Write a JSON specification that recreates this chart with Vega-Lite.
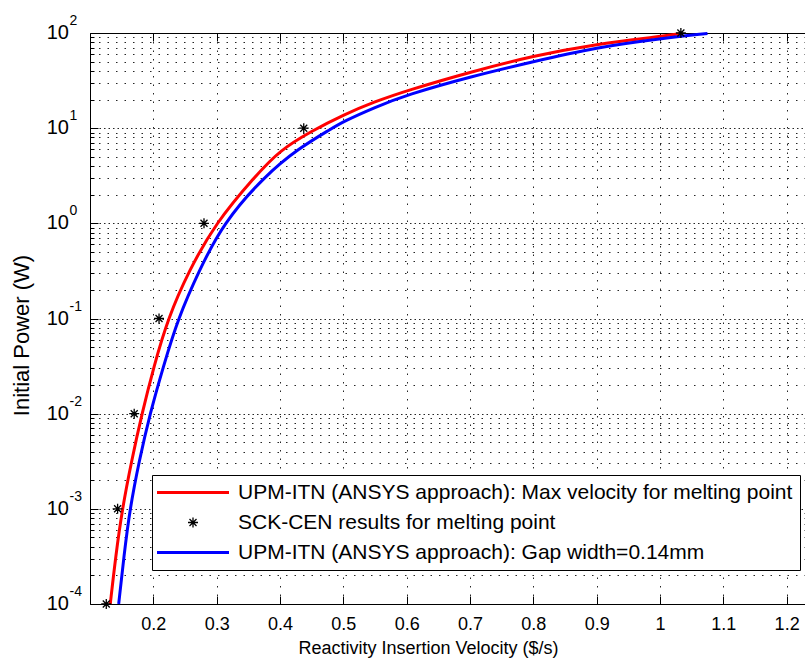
{
  "$schema": "https://vega.github.io/schema/vega-lite/v6.json",
  "width": 715,
  "height": 571,
  "autosize": {"type": "none"},
  "padding": {"left": 90, "top": 33, "right": 0, "bottom": 56},
  "background": "white",
  "config": {
    "view": {"stroke": null},
    "font": "Liberation Sans",
    "axis": {"labelFont": "Liberation Sans", "titleFont": "Liberation Sans", "labelColor": "black", "titleColor": "black", "titleFontWeight": "normal", "domainColor": "black", "tickColor": "black", "labelFlush": false, "labelOverlap": false}
  },
  "datasets": {
    "red": [
      {"v": 0.132, "p": 0.0001, "s": "UPM-ITN (ANSYS approach): Max velocity for melting point"},
      {"v": 0.1405, "p": 0.000316, "s": "UPM-ITN (ANSYS approach): Max velocity for melting point"},
      {"v": 0.151, "p": 0.001, "s": "UPM-ITN (ANSYS approach): Max velocity for melting point"},
      {"v": 0.1655, "p": 0.00316, "s": "UPM-ITN (ANSYS approach): Max velocity for melting point"},
      {"v": 0.182, "p": 0.01, "s": "UPM-ITN (ANSYS approach): Max velocity for melting point"},
      {"v": 0.201, "p": 0.0316, "s": "UPM-ITN (ANSYS approach): Max velocity for melting point"},
      {"v": 0.223, "p": 0.1, "s": "UPM-ITN (ANSYS approach): Max velocity for melting point"},
      {"v": 0.256, "p": 0.316, "s": "UPM-ITN (ANSYS approach): Max velocity for melting point"},
      {"v": 0.298, "p": 1.0, "s": "UPM-ITN (ANSYS approach): Max velocity for melting point"},
      {"v": 0.36, "p": 3.09, "s": "UPM-ITN (ANSYS approach): Max velocity for melting point"},
      {"v": 0.4, "p": 5.89, "s": "UPM-ITN (ANSYS approach): Max velocity for melting point"},
      {"v": 0.45, "p": 9.33, "s": "UPM-ITN (ANSYS approach): Max velocity for melting point"},
      {"v": 0.5, "p": 13.8, "s": "UPM-ITN (ANSYS approach): Max velocity for melting point"},
      {"v": 0.55, "p": 19.05, "s": "UPM-ITN (ANSYS approach): Max velocity for melting point"},
      {"v": 0.6, "p": 24.8, "s": "UPM-ITN (ANSYS approach): Max velocity for melting point"},
      {"v": 0.7, "p": 38.9, "s": "UPM-ITN (ANSYS approach): Max velocity for melting point"},
      {"v": 0.8, "p": 57.5, "s": "UPM-ITN (ANSYS approach): Max velocity for melting point"},
      {"v": 0.9, "p": 76.7, "s": "UPM-ITN (ANSYS approach): Max velocity for melting point"},
      {"v": 1.0, "p": 91.6, "s": "UPM-ITN (ANSYS approach): Max velocity for melting point"},
      {"v": 1.034, "p": 98.9, "s": "UPM-ITN (ANSYS approach): Max velocity for melting point"}
    ],
    "blue": [
      {"v": 0.1453, "p": 0.0001, "s": "UPM-ITN (ANSYS approach): Gap width=0.14mm"},
      {"v": 0.1535, "p": 0.000316, "s": "UPM-ITN (ANSYS approach): Gap width=0.14mm"},
      {"v": 0.163, "p": 0.001, "s": "UPM-ITN (ANSYS approach): Gap width=0.14mm"},
      {"v": 0.1775, "p": 0.00316, "s": "UPM-ITN (ANSYS approach): Gap width=0.14mm"},
      {"v": 0.1947, "p": 0.01, "s": "UPM-ITN (ANSYS approach): Gap width=0.14mm"},
      {"v": 0.216, "p": 0.0316, "s": "UPM-ITN (ANSYS approach): Gap width=0.14mm"},
      {"v": 0.239, "p": 0.1, "s": "UPM-ITN (ANSYS approach): Gap width=0.14mm"},
      {"v": 0.272, "p": 0.316, "s": "UPM-ITN (ANSYS approach): Gap width=0.14mm"},
      {"v": 0.31, "p": 1.0, "s": "UPM-ITN (ANSYS approach): Gap width=0.14mm"},
      {"v": 0.376, "p": 3.16, "s": "UPM-ITN (ANSYS approach): Gap width=0.14mm"},
      {"v": 0.43, "p": 6.17, "s": "UPM-ITN (ANSYS approach): Gap width=0.14mm"},
      {"v": 0.48, "p": 9.77, "s": "UPM-ITN (ANSYS approach): Gap width=0.14mm"},
      {"v": 0.5, "p": 11.75, "s": "UPM-ITN (ANSYS approach): Gap width=0.14mm"},
      {"v": 0.55, "p": 16.6, "s": "UPM-ITN (ANSYS approach): Gap width=0.14mm"},
      {"v": 0.6, "p": 22.4, "s": "UPM-ITN (ANSYS approach): Gap width=0.14mm"},
      {"v": 0.7, "p": 34.7, "s": "UPM-ITN (ANSYS approach): Gap width=0.14mm"},
      {"v": 0.8, "p": 50.1, "s": "UPM-ITN (ANSYS approach): Gap width=0.14mm"},
      {"v": 0.9, "p": 70.8, "s": "UPM-ITN (ANSYS approach): Gap width=0.14mm"},
      {"v": 1.0, "p": 87.1, "s": "UPM-ITN (ANSYS approach): Gap width=0.14mm"},
      {"v": 1.075, "p": 98.9, "s": "UPM-ITN (ANSYS approach): Gap width=0.14mm"}
    ],
    "pts": [
      {"v": 0.1257, "p": 0.0001, "s": "SCK-CEN results for melting point"},
      {"v": 0.1436, "p": 0.001, "s": "SCK-CEN results for melting point"},
      {"v": 0.1698, "p": 0.01, "s": "SCK-CEN results for melting point"},
      {"v": 0.209, "p": 0.1, "s": "SCK-CEN results for melting point"},
      {"v": 0.28, "p": 1.0, "s": "SCK-CEN results for melting point"},
      {"v": 0.4375, "p": 10.0, "s": "SCK-CEN results for melting point"},
      {"v": 1.033, "p": 100.0, "s": "SCK-CEN results for melting point"}
    ]
  },
  "layer": [
    {
      "data": {"name": "red"},
      "mark": {"type": "line", "strokeWidth": 3, "interpolate": "basis"},
      "encoding": {
        "x": {
          "field": "v", "type": "quantitative",
          "scale": {"domain": [0.1, 1.229], "nice": false, "zero": false},
          "axis": {
            "orient": "bottom",
            "values": [0.2, 0.3, 0.4, 0.5, 0.6, 0.7, 0.8, 0.9, 1.0, 1.1, 1.2],
            "labelExpr": "'' + round(datum.value*10)/10",
            "labelFontSize": 18, "labelPadding": 25, "labelBaseline": "alphabetic",
            "ticks": false, "grid": true, "gridDash": [1.5, 7], "gridColor": "black", "gridOpacity": 0.85,
            "domain": true,
            "title": "Reactivity Insertion Velocity ($/s)", "titleFontSize": 18,
            "titleX": 338, "titleY": 49.5, "titleBaseline": "alphabetic", "titleAlign": "center"
          }
        },
        "y": {
          "field": "p", "type": "quantitative",
          "scale": {"type": "log", "domain": [0.0001, 100], "nice": false},
          "axis": {
            "orient": "left",
            "values": [0.0001,0.0002,0.0003,0.0004,0.0005,0.0006,0.0007,0.0008,0.0009,0.001,0.002,0.003,0.004,0.005,0.006,0.007,0.008,0.009,0.01,0.02,0.03,0.04,0.05,0.06,0.07,0.08,0.09,0.1,0.2,0.3,0.4,0.5,0.6,0.7,0.8,0.9,1,2,3,4,5,6,7,8,9,10,20,30,40,50,60,70,80,90,100],
            "labelExpr": "abs(log(datum.value)/LN10 - round(log(datum.value)/LN10)) < 0.001 ? '10' : ''",
            "labelFontSize": 20, "labelPadding": 21.5, "labelAlign": "right", "labelBaseline": "alphabetic", "labelOffset": 5.5,
            "ticks": false, "grid": true, "gridColor": "black", "gridOpacity": 0.85,
            "gridDash": {"condition": {"test": "abs(log(datum.value)/LN10 - round(log(datum.value)/LN10)) < 0.001", "value": [1.5, 3]}, "value": [1.5, 7]},
            "domain": true,
            "title": "Initial Power (W)", "titleFontSize": 22, "titleAngle": 270,
            "titleX": -61.5, "titleY": 302, "titleBaseline": "alphabetic", "titleAlign": "center"
          }
        },
        "color": {
          "field": "s", "type": "nominal",
          "scale": {"domain": ["UPM-ITN (ANSYS approach): Max velocity for melting point", "SCK-CEN results for melting point", "UPM-ITN (ANSYS approach): Gap width=0.14mm"], "range": ["#ff0000", "#000000", "#0000ff"]},
          "legend": {
            "orient": "none", "legendX": 62, "legendY": 442, "title": null,
            "strokeColor": "black", "fillColor": "white", "padding": 7,
            "labelFontSize": 21, "labelFont": "Liberation Sans", "labelColor": "black", "labelLimit": 1000,
            "symbolSize": 100, "symbolStrokeWidth": 3, "labelOffset": 58, "rowPadding": 8,
            "encode": {"symbols": {"update": {
              "shape": {"signal": "datum.value === 'SCK-CEN results for melting point' ? 'M3.7,0L5.7,0M4.7,-1L4.7,1M4,-0.7L5.4,0.7M4,0.7L5.4,-0.7' : 'M-2.5,0L11.9,0'"},
              "strokeWidth": {"signal": "datum.value === 'SCK-CEN results for melting point' ? 1.3 : 3"},
              "stroke": {"signal": "datum.value === 'SCK-CEN results for melting point' ? '#000000' : (indexof(datum.value, 'Gap') >= 0 ? '#0000ff' : '#ff0000')"},
              "fill": {"value": "transparent"}
            }}}
          }
        }
      }
    },
    {
      "data": {"name": "blue"},
      "mark": {"type": "line", "strokeWidth": 3, "interpolate": "basis"},
      "encoding": {
        "x": {
          "field": "v", "type": "quantitative",
          "axis": {
            "orient": "top",
            "values": [0.2, 0.3, 0.4, 0.5, 0.6, 0.7, 0.8, 0.9, 1.0, 1.1, 1.2],
            "labels": false, "grid": false, "ticks": true, "tickSize": -8, "domain": true, "title": null
          }
        },
        "y": {
          "field": "p", "type": "quantitative",
          "axis": {
            "orient": "left",
            "values": [0.0001, 0.001, 0.01, 0.1, 1, 10, 100],
            "labelExpr": "'' + round(log(datum.value)/LN10)",
            "labelFontSize": 14, "labelAlign": "left", "labelBaseline": "alphabetic", "labelPadding": 21, "labelOffset": -8.5,
            "ticks": false, "grid": false, "domain": false, "title": null
          }
        },
        "color": {
          "field": "s", "type": "nominal",
          "scale": {"domain": ["UPM-ITN (ANSYS approach): Max velocity for melting point", "SCK-CEN results for melting point", "UPM-ITN (ANSYS approach): Gap width=0.14mm"], "range": ["#ff0000", "#000000", "#0000ff"]}
        }
      }
    },
    {
      "data": {"name": "pts"},
      "mark": {"type": "point", "shape": "M-1,0L1,0M0,-1L0,1M-0.7,-0.7L0.7,0.7M-0.7,0.7L0.7,-0.7", "size": 100, "filled": false, "strokeWidth": 1.3, "opacity": 1},
      "encoding": {
        "x": {
          "field": "v", "type": "quantitative",
          "axis": {
            "orient": "bottom",
            "values": [0.2, 0.3, 0.4, 0.5, 0.6, 0.7, 0.8, 0.9, 1.0, 1.1, 1.2],
            "labels": false, "grid": false, "ticks": true, "tickSize": -8, "domain": false, "title": null
          }
        },
        "y": {
          "field": "p", "type": "quantitative",
          "axis": {
            "orient": "left",
            "values": [0.0001,0.0002,0.0003,0.0004,0.0005,0.0006,0.0007,0.0008,0.0009,0.001,0.002,0.003,0.004,0.005,0.006,0.007,0.008,0.009,0.01,0.02,0.03,0.04,0.05,0.06,0.07,0.08,0.09,0.1,0.2,0.3,0.4,0.5,0.6,0.7,0.8,0.9,1,2,3,4,5,6,7,8,9,10,20,30,40,50,60,70,80,90,100],
            "labels": false, "grid": false, "domain": false, "ticks": true,
            "tickSize": {"condition": {"test": "abs(log(datum.value)/LN10 - round(log(datum.value)/LN10)) < 0.001", "value": -8}, "value": -4},
            "title": null
          }
        },
        "color": {
          "field": "s", "type": "nominal",
          "scale": {"domain": ["UPM-ITN (ANSYS approach): Max velocity for melting point", "SCK-CEN results for melting point", "UPM-ITN (ANSYS approach): Gap width=0.14mm"], "range": ["#ff0000", "#000000", "#0000ff"]}
        }
      }
    }
  ],
  "resolve": {"axis": {"x": "independent", "y": "independent"}}
}
